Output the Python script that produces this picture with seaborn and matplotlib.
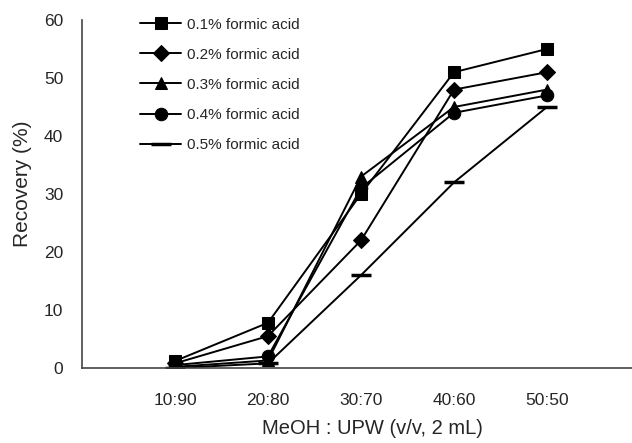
import matplotlib
matplotlib.use("Agg")
import matplotlib.pyplot as plt
import seaborn as sns
import pandas as pd

ratios = ["10:90", "20:80", "30:70", "40:60", "50:50"]
meoh = [10, 20, 30, 40, 50]
series_names = ["0.1% formic acid", "0.2% formic acid", "0.3% formic acid",
                "0.4% formic acid", "0.5% formic acid"]
fa_01 = [1.2, 7.8, 30, 51, 55]
fa_02 = [0.8, 5.5, 22, 48, 51]
fa_03 = [0.2, 1.3, 33, 45, 48]
fa_04 = [0.5, 2.0, 31, 44, 47]
fa_05 = [0.0, 0.8, 16, 32, 45]
values = [fa_01, fa_02, fa_03, fa_04, fa_05]
marker_list = ["s", "D", "^", "o", "_"]

sns.set_style("white")
plt.rcParams['font.family'] = ['Liberation Sans', 'DejaVu Sans']

fig = plt.figure(figsize=(6.32, 4.43), dpi=100)
ax = fig.add_axes([82/632, 1-368/443, 558/632, 348/443])

for name, vals, mk in zip(series_names, values, marker_list):
    d = pd.DataFrame({"x": meoh, "y": vals})
    if mk == "_":
        kw = dict(markersize=14, markeredgewidth=2.5)
    elif mk == "D":
        kw = dict(markersize=8)
    else:
        kw = dict(markersize=9)
    sns.lineplot(data=d, x="x", y="y", ax=ax, color="black", marker=mk,
                 markeredgecolor="black", markerfacecolor="black",
                 linewidth=1.4, label=name, **kw)

ax.set_xlim(0, 60)
ax.set_ylim(0, 60)
ax.set_xticks(meoh)
ax.set_xticklabels(ratios, fontsize=12.5)
ax.set_yticks([0, 10, 20, 30, 40, 50, 60])
ax.tick_params(axis="y", labelsize=12.5, direction="in", length=4, width=1, color="#444444", pad=13.5)
ax.tick_params(axis="x", direction="in", length=7, width=1, color="#444444", pad=18)
ax.set_xlabel("MeOH : UPW (v/v, 2 mL)", fontsize=14.5)
ax.set_ylabel("Recovery (%)", fontsize=15)
ax.xaxis.set_label_coords(0.52, -0.147)
ax.yaxis.set_label_coords(-0.09, 0.53)

for s in ["top", "right"]:
    ax.spines[s].set_visible(False)
for s in ["left", "bottom"]:
    ax.spines[s].set_color("#444444")
    ax.spines[s].set_linewidth(1.2)

handles, labels = ax.get_legend_handles_labels()
leg = ax.legend(handles, labels, loc="upper left", bbox_to_anchor=(52/558, 1.024),
                frameon=False, fontsize=11, handlelength=2.7, labelspacing=1.05,
                handletextpad=0.4, borderaxespad=0)

fig.savefig("out.png", dpi=100)
